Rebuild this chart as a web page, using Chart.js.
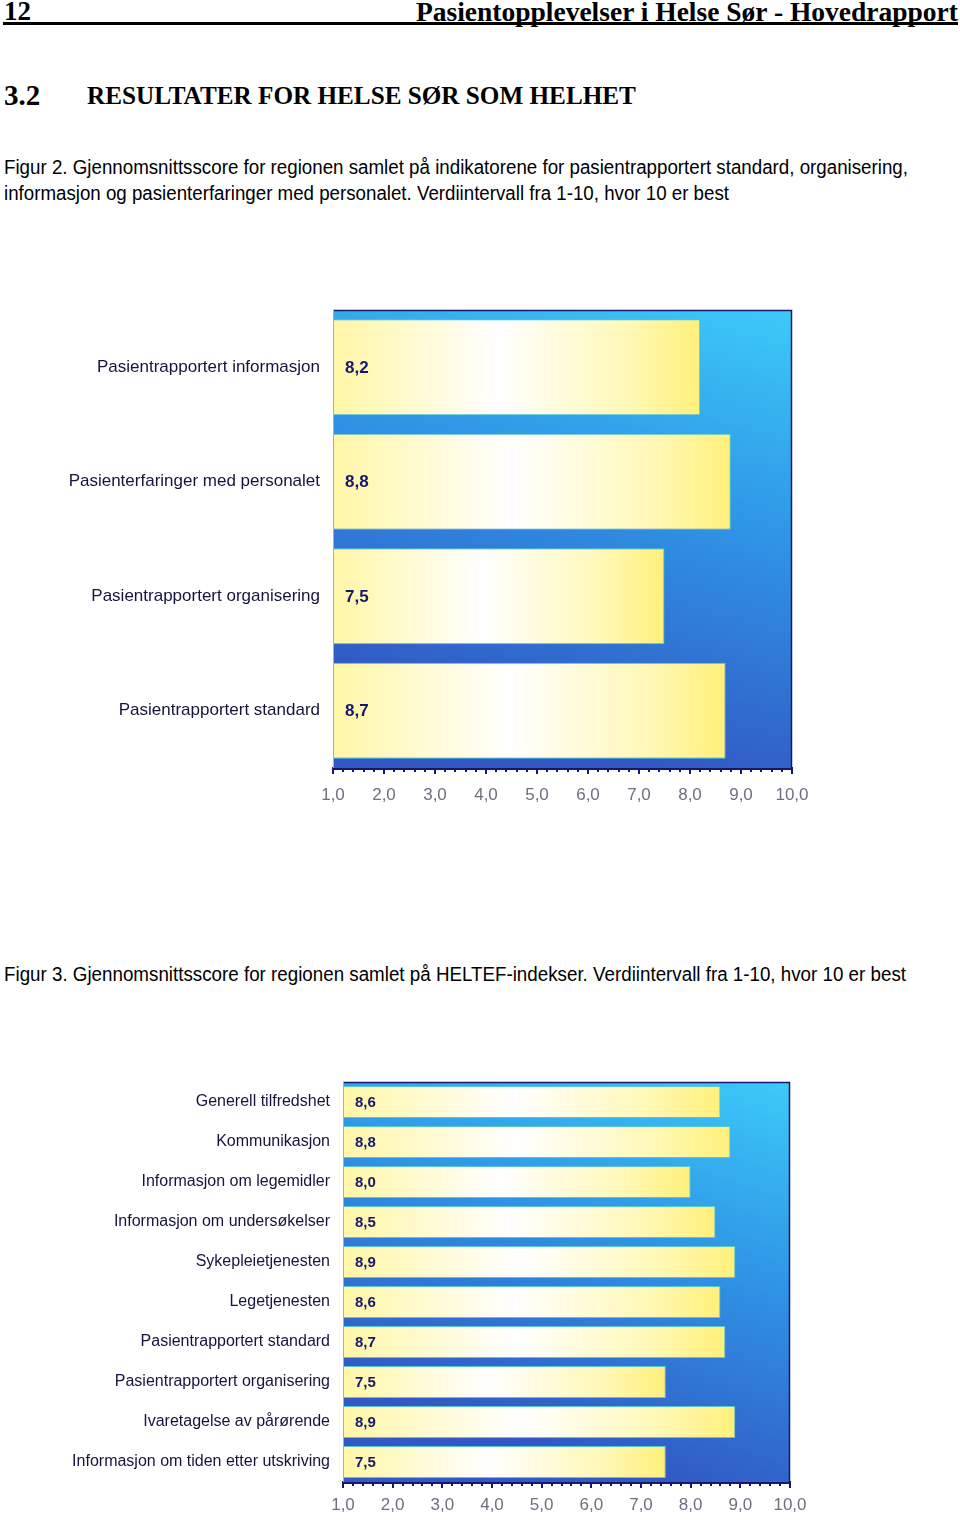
<!DOCTYPE html>
<html>
<head>
<meta charset="utf-8">
<script src="https://cdn.jsdelivr.net/npm/chart.js@4.4.1/dist/chart.umd.min.js"></script>
<style>
  html, body { margin:0; padding:0; background:#fff; }
  body { width:960px; height:1525px; position:relative; overflow:hidden; }
  .t { position:absolute; white-space:nowrap; color:#000; }
  .serif { font-family:'Liberation Serif','Times New Roman',serif; font-weight:bold; }
  .cap { font-family:'Liberation Sans Narrow','Arial Narrow','Liberation Sans',sans-serif; font-size:20px; transform-origin:0 50%; }
  #rule { position:absolute; left:3px; top:22px; width:955px; height:3px; background:#000; }
  canvas { position:absolute; }
</style>
</head>
<body>
<div class="t serif" style="left:4px; top:-4px; font-size:27px;">12</div>
<div class="t serif" style="right:2px; top:-4px; font-size:27.5px;">Pasientopplevelser i Helse Sør - Hovedrapport</div>
<div id="rule"></div>
<div class="t serif" style="left:4px; top:79px; font-size:29px;">3.2</div>
<div class="t serif" style="left:87px; top:82px; font-size:25.2px;">RESULTATER FOR HELSE SØR SOM HELHET</div>
<div class="t cap" data-w="904" style="left:4px; top:156px;">Figur 2. Gjennomsnittsscore for regionen samlet på indikatorene for pasientrapportert standard, organisering,</div>
<div class="t cap" data-w="725" style="left:4px; top:182px;">informasjon og pasienterfaringer med personalet. Verdiintervall fra 1-10, hvor 10 er best</div>
<div class="t cap" data-w="902" style="left:4px; top:963px;">Figur 3. Gjennomsnittsscore for regionen samlet på HELTEF-indekser. Verdiintervall fra 1-10, hvor 10 er best</div>

<canvas id="c1" width="960" height="530" style="left:0; top:300px; width:960px; height:530px;"></canvas>
<canvas id="c2" width="960" height="455" style="left:0; top:1070px; width:960px; height:455px;"></canvas>

<script>
// ---- data ----
const categories1 = ['Pasientrapportert informasjon', 'Pasienterfaringer med personalet', 'Pasientrapportert organisering', 'Pasientrapportert standard'];
const values1 = [8.2, 8.8, 7.5, 8.7];

const categories2 = ['Generell tilfredshet', 'Kommunikasjon', 'Informasjon om legemidler', 'Informasjon om undersøkelser', 'Sykepleietjenesten', 'Legetjenesten', 'Pasientrapportert standard', 'Pasientrapportert organisering', 'Ivaretagelse av pårørende', 'Informasjon om tiden etter utskriving'];
const values2 = [8.6, 8.8, 8.0, 8.5, 8.9, 8.6, 8.7, 7.5, 8.9, 7.5];

const xTickLabels = ['1,0', '2,0', '3,0', '4,0', '5,0', '6,0', '7,0', '8,0', '9,0', '10,0'];
const xMin = 1, xMax = 10;

// fit condensed caption lines to their widths in the reference
document.querySelectorAll('.cap').forEach(el => {
  const target = +el.dataset.w;
  const w = el.getBoundingClientRect().width;
  if (w > 0) el.style.transform = 'scaleX(' + (target / w) + ')';
});

const NAVY = '#15186e';
const fmt = v => v.toFixed(1).replace('.', ',');

function barGradient(ctx) {
  const chart = ctx.chart;
  const xs = chart.scales.x;
  if (!xs || !chart.chartArea || ctx.raw == null) return '#fff6a8';
  const x0 = xs.getPixelForValue(xMin);
  const x1 = xs.getPixelForValue(ctx.raw);
  const g = chart.ctx.createLinearGradient(x0, 0, x1, 0);
  g.addColorStop(0, '#fff6a6');
  g.addColorStop(0.45, '#ffffff');
  g.addColorStop(0.8, '#fff8b8');
  g.addColorStop(1, '#fff07a');
  return g;
}

function makePlugin(labelFont, labelOffset) {
  return {
    id: 'deco',
    beforeDatasetsDraw(chart) {
      const { ctx, chartArea: a } = chart;
      ctx.save();
      const g = ctx.createLinearGradient(a.right, a.top, a.left + (a.right - a.left) * 0.7, a.bottom);
      g.addColorStop(0, '#3ccaf8');
      g.addColorStop(0.45, '#2f96e6');
      g.addColorStop(1, '#3158c4');
      ctx.fillStyle = g;
      ctx.fillRect(a.left, a.top, a.right - a.left, a.bottom - a.top);
      ctx.restore();
    },
    afterDatasetsDraw(chart) {
      const { ctx, chartArea: a } = chart;
      const xs = chart.scales.x;
      const meta = chart.getDatasetMeta(0);
      const data = chart.data.datasets[0].data;
      ctx.save();
      // frame
      ctx.strokeStyle = NAVY;
      ctx.lineWidth = 1.5;
      ctx.beginPath();
      ctx.moveTo(a.left, a.top + 0.5); ctx.lineTo(a.right - 0.5, a.top + 0.5); ctx.lineTo(a.right - 0.5, a.bottom);
      ctx.stroke();
      ctx.strokeStyle = '#5fd0d8';
      ctx.lineWidth = 1;
      ctx.beginPath();
      ctx.moveTo(a.left + 0.5, a.top); ctx.lineTo(a.left + 0.5, a.bottom);
      ctx.stroke();
      // value labels
      ctx.fillStyle = NAVY;
      ctx.font = labelFont;
      ctx.textAlign = 'left';
      ctx.textBaseline = 'middle';
      meta.data.forEach((bar, i) => {
        ctx.fillText(fmt(data[i]), a.left + labelOffset, bar.y + 1);
      });
      // minor tick dots
      ctx.fillStyle = NAVY;
      for (let k = 0; k <= (xMax - xMin) * 5; k++) {
        if (k % 5 === 0) continue;
        const v = xMin + k * 0.2;
        const px = xs.getPixelForValue(v);
        ctx.fillRect(Math.round(px) - 1, a.bottom + 1, 2, 3);
      }
      ctx.restore();
    }
  };
}

function makeChart(id, cats, vals, opt) {
  return new Chart(document.getElementById(id), {
    type: 'bar',
    data: {
      labels: cats,
      datasets: [{
        data: vals,
        backgroundColor: barGradient,
        borderColor: '#58c8cc',
        borderWidth: 1,
        borderSkipped: false,
        categoryPercentage: 1,
        barPercentage: opt.barPct
      }]
    },
    options: {
      indexAxis: 'y',
      responsive: false,
      animation: false,
      events: [],
      layout: { padding: { top: opt.padTop, right: opt.padRight, left: 0, bottom: 0 } },
      plugins: { legend: { display: false }, tooltip: { enabled: false } },
      scales: {
        x: {
          min: xMin, max: xMax,
          ticks: {
            stepSize: 1,
            padding: opt.tickPad,
            color: '#6e6e80',
            font: { family: "'Liberation Sans', Arial, sans-serif", size: 17 },
            callback: (v) => xTickLabels[Math.round(v) - xMin]
          },
          grid: { display: true, drawOnChartArea: false, drawTicks: true, tickLength: 6, color: NAVY, lineWidth: 2 },
          border: { display: true, color: NAVY, width: 3 },
          afterFit: (s) => { s.height = opt.xAxisH; s.paddingLeft = 0; s.paddingRight = 0; }
        },
        y: {
          ticks: {
            color: '#14143c',
            padding: opt.labelPad,
            font: { family: "'Liberation Sans', Arial, sans-serif", size: opt.catSize }
          },
          grid: { display: false },
          border: { display: false },
          afterFit: (s) => { s.width = opt.yAxisW; s.paddingTop = 0; s.paddingBottom = 0; }
        }
      }
    },
    plugins: [makePlugin(opt.valFont, opt.valOffset)]
  });
}

makeChart('c1', categories1, values1, {
  barPct: 0.84, padTop: 10, padRight: 168, tickPad: 11, xAxisH: 62, yAxisW: 333,
  labelPad: 5, catSize: 17, valFont: "bold 17px 'Liberation Sans', Arial, sans-serif", valOffset: 12
});
makeChart('c2', categories2, values2, {
  barPct: 0.8, padTop: 12, padRight: 170, tickPad: 7, xAxisH: 43, yAxisW: 343,
  labelPad: 5, catSize: 16, valFont: "bold 15px 'Liberation Sans', Arial, sans-serif", valOffset: 12
});
</script>
</body>
</html>
